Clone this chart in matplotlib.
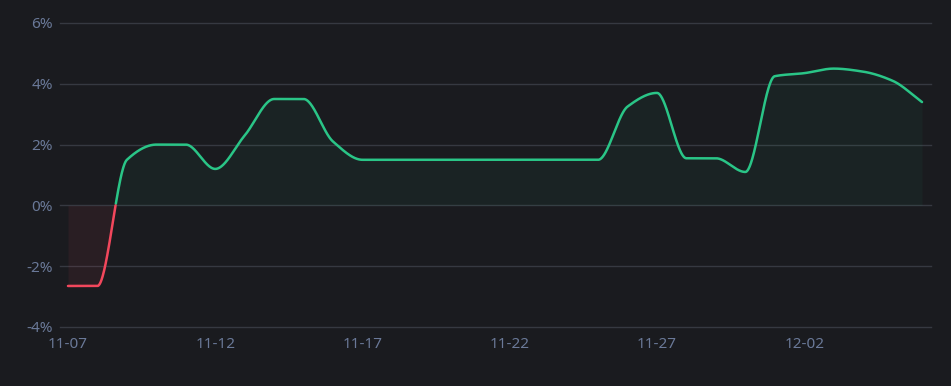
import numpy as np
import matplotlib
matplotlib.use("Agg")
import matplotlib.pyplot as plt
import pandas as pd

# daily return values (%)
dates = pd.date_range("2024-11-07", "2024-12-06", freq="D")
values = [-2.65, -2.65, 1.5, 2.0, 2.0, 1.2, 2.3, 3.5, 3.5, 2.1,
          1.5, 1.5, 1.5, 1.5, 1.5, 1.5, 1.5, 1.5, 1.5, 3.25,
          3.7, 1.55, 1.55, 1.1, 4.25, 4.35, 4.5, 4.4, 4.1, 3.4]
tick_days = [0, 5, 10, 15, 20, 25]
y_ticks = [-4, -2, 0, 2, 4, 6]

BG = "#1a1b1f"
GRID = "#363941"
TEXT = "#6a7998"
GREEN = "#2ac587"
RED = "#f2475c"


def pchip(x, y, xs):
    """monotone cubic curve, used only to draw the smoothed line"""
    x = np.asarray(x, float)
    y = np.asarray(y, float)
    h = np.diff(x)
    d = np.diff(y) / h
    m = np.zeros_like(y)
    for k in range(1, len(y) - 1):
        if d[k - 1] * d[k] > 0:
            w1 = 2 * h[k] + h[k - 1]
            w2 = h[k] + 2 * h[k - 1]
            m[k] = (w1 + w2) / (w1 / d[k - 1] + w2 / d[k])
    # keep the slope at the ends
    m[0] = d[0]
    m[-1] = d[-1]
    idx = np.clip(np.searchsorted(x, xs) - 1, 0, len(x) - 2)
    t = (xs - x[idx]) / h[idx]
    h00 = 2 * t**3 - 3 * t**2 + 1
    h10 = t**3 - 2 * t**2 + t
    h01 = -2 * t**3 + 3 * t**2
    h11 = t**3 - t**2
    return (h00 * y[idx] + h10 * h[idx] * m[idx]
            + h01 * y[idx + 1] + h11 * h[idx] * m[idx + 1])


x = np.arange(len(values))
xs = np.linspace(0, len(values) - 1, 3000)
ys = pchip(x, values, xs)

fig = plt.figure(figsize=(9.51, 3.86), dpi=100, facecolor=BG)
ax = fig.add_axes([60 / 951, 59 / 386, 871 / 951, 304 / 386])
ax.set_facecolor(BG)

pos = np.where(ys >= 0, ys, np.nan)
neg = np.where(ys <= 0, ys, np.nan)
ax.fill_between(xs, 0, ys, where=ys >= 0, color=GREEN, alpha=0.05, lw=0)
ax.fill_between(xs, 0, ys, where=ys <= 0, color=RED, alpha=0.07, lw=0)
ax.plot(xs, pos, color=GREEN, lw=1.8, solid_capstyle="round")
ax.plot(xs, neg, color=RED, lw=1.8, solid_capstyle="round")

ax.set_ylim(-4, 6)
ax.set_xlim(-8 / 29.5, 29 + 9 / 29.5)
ax.set_yticks(y_ticks)
ax.set_yticklabels([f"{v}%" for v in y_ticks])
ax.set_xticks(tick_days)
ax.set_xticklabels([dates[i].strftime("%m-%d") for i in tick_days])
ax.grid(axis="y", color=GRID, lw=1, clip_on=False)
ax.set_axisbelow(True)
for s in ax.spines.values():
    s.set_visible(False)
ax.tick_params(length=0, colors=TEXT, labelsize=11, pad=5)
ax.tick_params(axis="x", pad=7)
for lab in ax.get_xticklabels() + ax.get_yticklabels():
    lab.set_fontfamily(["Noto Sans", "DejaVu Sans"])

fig.savefig("out.png", dpi=100, facecolor=BG)
